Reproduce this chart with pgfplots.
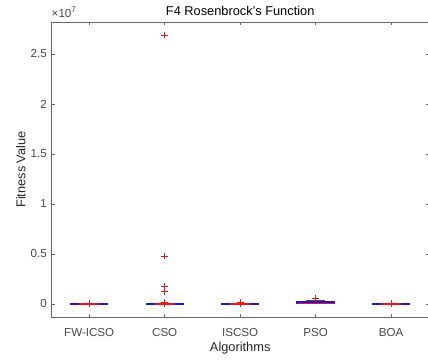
\documentclass[border=0pt]{standalone}
\usepackage{pgfplots}
\pgfplotsset{compat=1.18}
\usepackage{fontspec}
\setmainfont{Liberation Sans}
\definecolor{axgray}{RGB}{38,38,38}
\definecolor{mblue}{RGB}{20,20,235}
\definecolor{mred}{RGB}{240,20,20}
\begin{document}
\begin{tikzpicture}
\begin{axis}[
  name=ax,
  scale only axis,
  width=283.1pt, height=221.25pt,
  xmin=0.5, xmax=5.5,
  ymin=-1.3e6, ymax=2.82e7,
  xtick={1,2,3,4,5},
  xticklabels={FW-ICSO,CSO,ISCSO,PSO,BOA},
  ytick={0,5e6,1e7,1.5e7,2e7,2.5e7},
  yticklabels={0,0.5,1,1.5,2,2.5},
  scaled y ticks=false,
  tick align=inside,
  major tick length=2.5pt,
  axis line style={draw=axgray!70, line width=0.4pt},
  every tick/.style={draw=axgray!70, line width=0.4pt},
  tick label style={font=\fontsize{8.7}{10}\selectfont, text=axgray!85},
  /pgf/number format/assume math mode=true,
  xticklabel style={yshift=-5pt},
  label style={font=\fontsize{9.6}{11}\selectfont, text=axgray},
  xlabel={Algorithms},
  ylabel={Fitness Value},
  xlabel style={yshift=3pt},
  ylabel style={yshift=-3pt},
  title={F4 Rosenbrock's Function},
  title style={font=\fontsize{9.6}{11}\selectfont, text=black, yshift=-5pt},
  clip=false,
]
% boxes (flat)
\addplot[mblue, line width=1.1pt] coordinates {(0.75,5e3) (1.25,5e3)};
\addplot[mblue, line width=1.1pt] coordinates {(1.75,2e4) (2.25,2e4)};
\addplot[mblue, line width=1.1pt] coordinates {(2.75,5e3) (3.25,5e3)};
\addplot[mblue, line width=1.1pt] coordinates {(4.75,5e3) (5.25,5e3)};
% PSO box
\addplot[mblue, line width=0.9pt] coordinates {(3.75,0.5e5) (4.25,0.5e5) (4.25,2.0e5) (3.75,2.0e5) (3.75,0.5e5)};
\addplot[black!70, densely dashed, line width=0.4pt] coordinates {(4,2.0e5) (4,4.0e5)};
\addplot[black!70, line width=0.5pt] coordinates {(3.875,4.0e5) (4.125,4.0e5)};
% medians
\addplot[mred, line width=1.1pt] coordinates {(0.87,5e3) (1.13,5e3)};
\addplot[mred, line width=1.1pt] coordinates {(1.87,2e4) (2.13,2e4)};
\addplot[mred, line width=1.1pt] coordinates {(2.87,5e3) (3.13,5e3)};
\addplot[mred, line width=0.6pt] coordinates {(3.75,1.1e5) (4.25,1.1e5)};
\addplot[mred, line width=1.1pt] coordinates {(4.87,5e3) (5.13,5e3)};
% outliers
\addplot[only marks, mark=+, mark size=2.6pt, mred, mark options={line width=0.5pt}] coordinates {
 (1,1e4)
 (2,2.69e7) (2,4.8e6) (2,1.8e6) (2,1.23e6) (2,1.3e5) (2,4e4)
 (3,1.3e5) (3,2e4)
 (4,5.7e5)
 (5,1e4)
};
\node[anchor=south west, font=\fontsize{8.7}{10}\selectfont, text=axgray!85, inner sep=0pt] at (rel axis cs:0,1) [yshift=3pt] {×10\textsuperscript{7}};
\end{axis}
\pgfresetboundingbox
\path (ax.south west) ++(-38.6pt,-33pt) rectangle ++(321pt,270.75pt);
\end{tikzpicture}
\end{document}
